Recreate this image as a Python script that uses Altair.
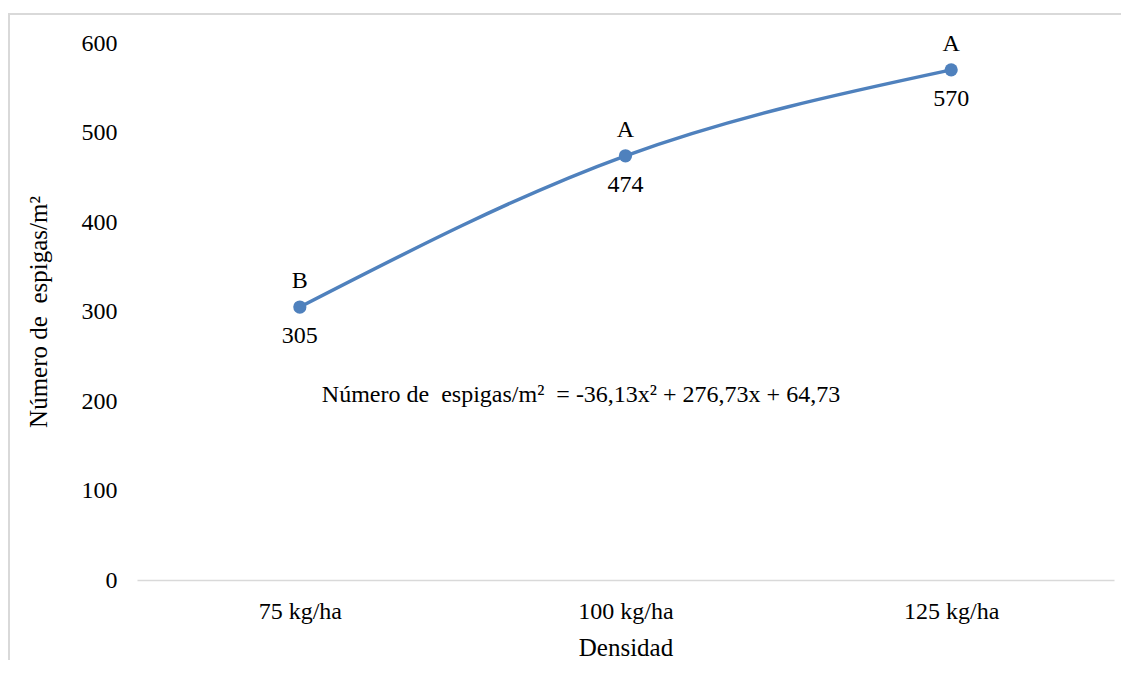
import altair as alt
import pandas as pd

categories = ["75 kg/ha", "100 kg/ha", "125 kg/ha"]
values = [305, 474, 570]
letters = ["B", "A", "A"]
value_labels = ["305", "474", "570"]
NB = "\u00a0"
equation = f"Número de{NB}{NB}espigas/m²{NB}{NB}= -36,13x² + 276,73x + 64,73"
y_title = f"Número de{NB}{NB}espigas/m²"

df = pd.DataFrame({"cat": categories, "val": values, "letter": letters, "vlab": value_labels})

FONT = "Liberation Serif"
FS = 24
BLUE = "#4F81BD"
GRAY = "#D9D9D9"
W, H = 977, 537

x_enc = alt.X("cat:N", sort=categories, title="Densidad",
              scale=alt.Scale(type="point", padding=0.5),
              axis=alt.Axis(labelAngle=0, ticks=False, domainColor=GRAY, domainWidth=1.5,
                            labelPadding=19, titlePadding=12, labelFontSize=FS,
                            titleFontSize=25, labelFont=FONT, titleFont=FONT,
                            labelColor="black", titleColor="black", titleFontWeight="normal"))
y_enc = alt.Y("val:Q", title=y_title,
              scale=alt.Scale(domain=[0, 600]),
              axis=alt.Axis(values=[0, 100, 200, 300, 400, 500, 600], grid=False, domain=False,
                            ticks=False, labelPadding=20, titlePadding=30, labelFontSize=FS,
                            titleFontSize=25, labelFont=FONT, titleFont=FONT,
                            labelColor="black", titleColor="black", titleFontWeight="normal"))

base = alt.Chart(df).encode(x=x_enc, y=y_enc)

line = base.mark_line(color=BLUE, strokeWidth=3.5, interpolate="natural")
pts = base.mark_point(filled=True, color=BLUE, size=175, opacity=1)
top_lab = base.mark_text(font=FONT, fontSize=FS, dy=-26, baseline="middle", color="black").encode(text="letter:N")
bot_lab = base.mark_text(font=FONT, fontSize=FS, dy=29, baseline="middle", color="black").encode(text="vlab:N")

eq = alt.Chart(pd.DataFrame({"t": [equation]})).mark_text(
    font=FONT, fontSize=FS, align="center", baseline="middle", color="black"
).encode(text="t:N", x=alt.value(444), y=alt.value(352))

border_left = alt.Chart(pd.DataFrame({"k": [0]})).mark_rule(color=GRAY, strokeWidth=2).encode(
    x=alt.value(-128), y=alt.value(-29), y2=alt.value(H + 90))
border_top = alt.Chart(pd.DataFrame({"k": [0]})).mark_rule(color=GRAY, strokeWidth=2).encode(
    x=alt.value(-129), x2=alt.value(W + 30), y=alt.value(-29))

chart = alt.layer(border_left, border_top, line, pts, top_lab, bot_lab, eq).properties(
    width=W, height=H, background="white",
    padding={"left": 129, "top": 35, "right": 7, "bottom": 80},
    autosize=alt.AutoSizeParams(type="none"),
).configure_view(stroke=None)

chart.save("out.html", embed_options={"renderer": "svg", "actions": False})
